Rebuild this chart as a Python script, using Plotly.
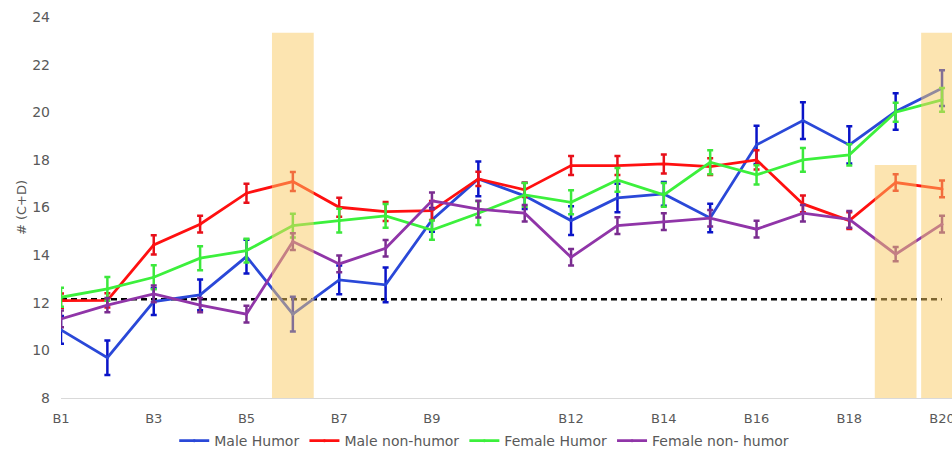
import plotly.graph_objects as go

# Blocks B1..B20
blocks = [f"B{i}" for i in range(1, 21)]
tick_labels = ["B1", "B3", "B5", "B7", "B9", "B12", "B14", "B16", "B18", "B20"]

male_humor = [10.86, 9.69, 12.05, 12.33, 13.94, 11.52, 12.96, 12.75, 15.48, 17.2,
              16.49, 15.45, 16.4, 16.57, 15.56, 18.63, 19.65, 18.63, 20.03, 21.01]
male_humor_err = [0.58, 0.72, 0.56, 0.65, 0.71, 0.73, 0.6, 0.73, 0.5, 0.73,
                  0.55, 0.6, 0.6, 0.5, 0.6, 0.8, 0.77, 0.78, 0.77, 0.75]

male_non = [12.09, 12.1, 14.43, 15.3, 16.6, 17.09, 16.01, 15.83, 15.87, 17.2,
            16.74, 17.76, 17.76, 17.83, 17.72, 18.0, 16.15, 15.45, 17.05, 16.78]
male_non_err = [0.3, 0.3, 0.4, 0.35, 0.4, 0.4, 0.4, 0.4, 0.4, 0.3,
                0.3, 0.4, 0.4, 0.4, 0.35, 0.4, 0.35, 0.35, 0.35, 0.35]

female_humor = [12.23, 12.58, 13.07, 13.87, 14.19, 15.24, 15.45, 15.65, 15.05, 15.76,
                16.53, 16.22, 17.16, 16.53, 17.9, 17.37, 18.0, 18.21, 20.0, 20.52]
female_humor_err = [0.4, 0.5, 0.5, 0.5, 0.5, 0.5, 0.5, 0.5, 0.4, 0.5,
                    0.5, 0.5, 0.5, 0.5, 0.5, 0.4, 0.5, 0.45, 0.4, 0.5]

female_non = [11.32, 11.9, 12.37, 11.9, 11.52, 14.57, 13.63, 14.29, 16.28, 15.93,
              15.76, 13.91, 15.24, 15.41, 15.55, 15.09, 15.76, 15.5, 14.04, 15.3]
female_non_err = [0.35, 0.3, 0.35, 0.3, 0.35, 0.35, 0.35, 0.35, 0.35, 0.35,
                  0.35, 0.35, 0.35, 0.35, 0.35, 0.35, 0.35, 0.35, 0.3, 0.35]

baseline_value = 12.15

# Highlighted blocks: (block, top value)
highlights = [("B6", 23.34), ("B19", 17.79), ("B20", 23.34)]

x = list(range(len(blocks)))

series = [
    ("Male Humor", male_humor, male_humor_err, "#2A48D8", "#0A14C8"),
    ("Male non-humor", male_non, male_non_err, "#FF1010", "#E8101A"),
    ("Female Humor", female_humor, female_humor_err, "#3CF03C", "#3CE83C"),
    ("Female non- humor", female_non, female_non_err, "#9035A8", "#7A2C90"),
]

fig = go.Figure()

fig.add_trace(go.Scatter(
    x=x, y=[baseline_value] * len(blocks), mode="lines",
    line=dict(color="black", width=2.5, dash="6px,4px"),
    showlegend=False, hoverinfo="skip",
))

for name, vals, errs, color, ecolor in series:
    fig.add_trace(go.Scatter(
        x=x, y=vals, name=name, mode="lines+markers",
        line=dict(color=color, width=2.8),
        marker=dict(color=color, size=3),
        error_y=dict(type="data", array=errs, visible=True,
                     color=ecolor, thickness=2.5, width=3),
    ))

for block, top in highlights:
    i = blocks.index(block)
    fig.add_shape(type="rect", xref="x", yref="y",
                  x0=i - 0.45, x1=i + 0.45, y0=8, y1=top,
                  fillcolor="#F9C961", opacity=0.5, line=dict(width=0),
                  layer="above")

fig.update_layout(
    width=952, height=452,
    margin=dict(l=61, r=0, t=17, b=54, autoexpand=False),
    paper_bgcolor="white", plot_bgcolor="white",
    font=dict(family="DejaVu Sans", size=13, color="#595959"),
    showlegend=True,
    legend=dict(orientation="h", x=0.475, xanchor="center", y=-0.113, yanchor="middle",
                font=dict(size=14, color="#595959"), itemwidth=30,
                tracegroupgap=0),
)

fig.update_xaxes(
    range=[0, 19.215], tickmode="array",
    tickvals=[blocks.index(t) for t in tick_labels], ticktext=tick_labels,
    showgrid=False, zeroline=False, showline=True, linecolor="#D9D9D9", linewidth=1,
    ticks="", ticklabelstandoff=8, ticklabeloverflow="allow", automargin=False,
    tickfont=dict(size=13),
)
fig.update_yaxes(
    range=[8, 24], dtick=2, showgrid=False, zeroline=False, showline=False,
    ticks="", ticklabelstandoff=10, tickfont=dict(size=14), automargin=False,
    title=dict(text="# (C+D)", standoff=2, font=dict(size=13, color="#595959")),
)

fig.write_html("out.html")
